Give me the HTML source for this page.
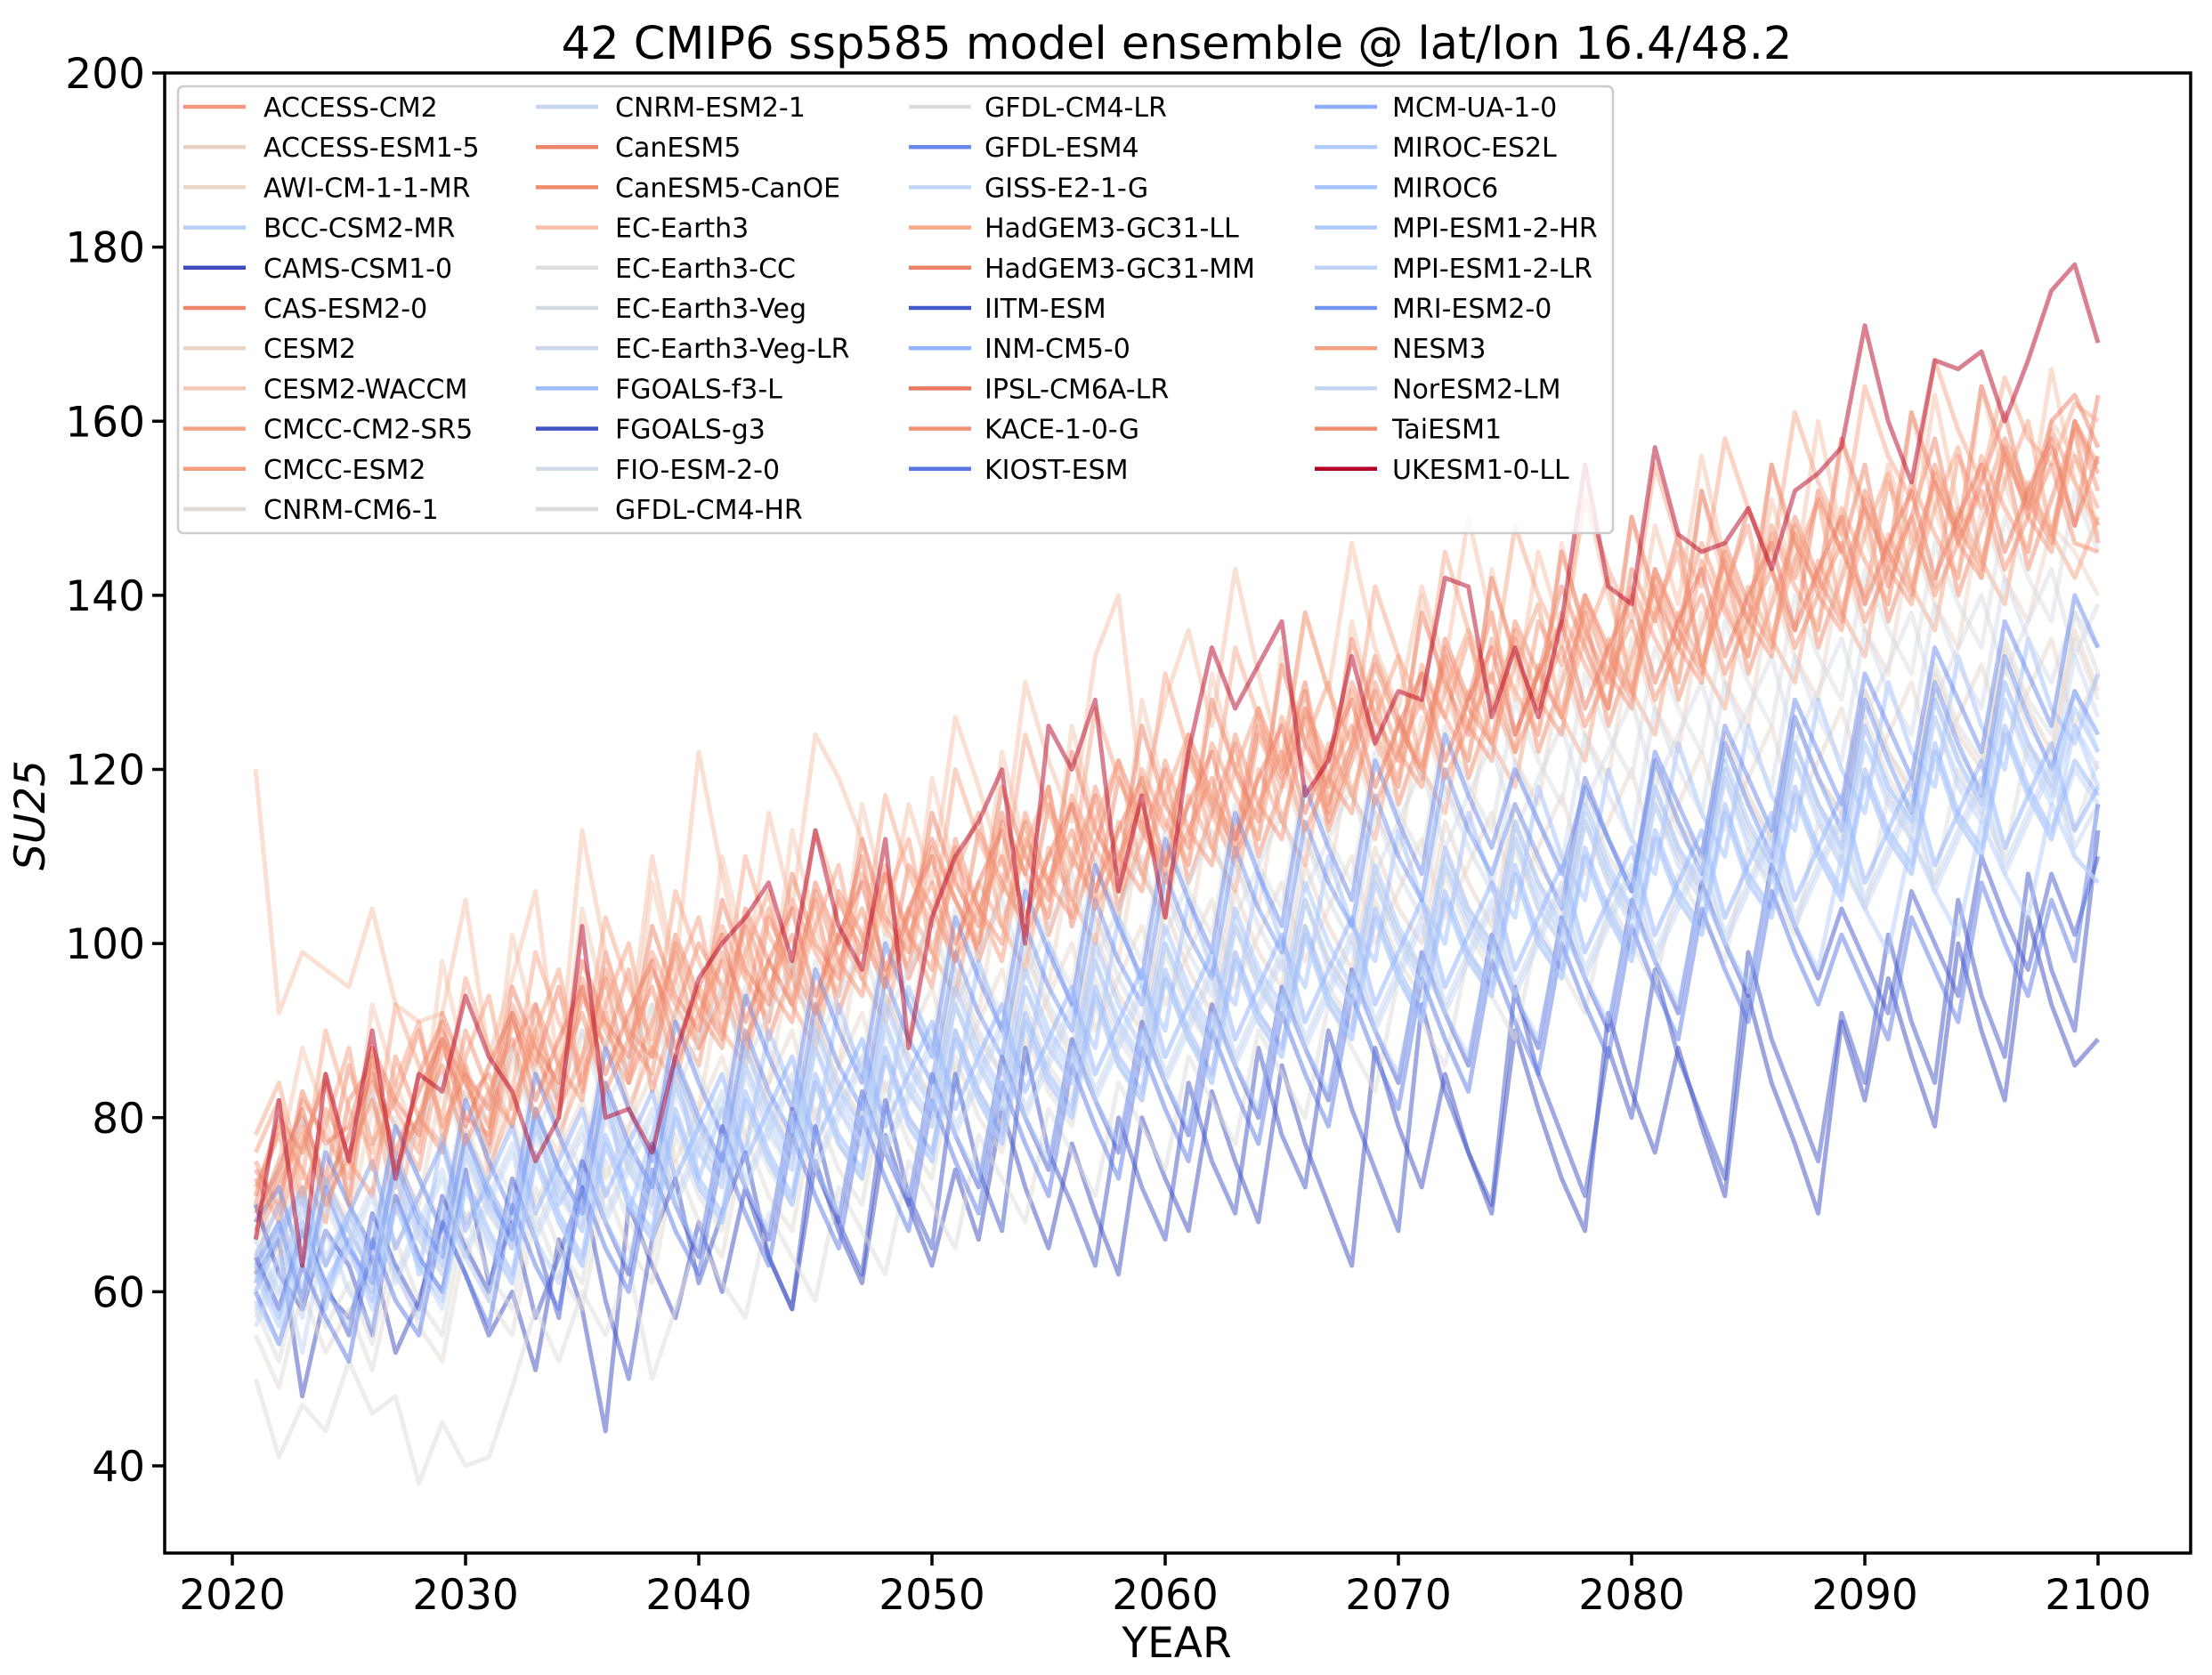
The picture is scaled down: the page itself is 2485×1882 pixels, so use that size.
<!DOCTYPE html>
<html><head><meta charset="utf-8">
<style>
html,body{margin:0;padding:0;background:#fff;}
svg{display:block;}
text{font-family:"DejaVu Sans","Liberation Sans",sans-serif;fill:#000;}
</style></head>
<body>
<svg id="chart" width="2485" height="1882" viewBox="0 0 2485 1882" xmlns="http://www.w3.org/2000/svg">
<rect x="0" y="0" width="2485" height="1882" fill="#fff"/>
<text x="1322" y="66" font-size="51" text-anchor="middle">42 CMIP6 ssp585 model ensemble @ lat/lon 16.4/48.2</text>
<g id="grid-lines"></g>
<g id="series-layer"></g>
<rect x="185" y="82" width="2276" height="1663" fill="none" stroke="#000" stroke-width="3.5"/>
<g id="y-axis"></g>
<g id="x-axis"></g>
<text x="0" y="0" font-size="47" font-style="italic" text-anchor="middle" transform="translate(50,916) rotate(-90)">SU25</text>
<text x="1322" y="1862" font-size="47" text-anchor="middle">YEAR</text>
<g id="legend"></g>
</svg>
<script>
const yTicks = [40, 60, 80, 100, 120, 140, 160, 180, 200];
const xTicks = [2020, 2030, 2040, 2050, 2060, 2070, 2080, 2090, 2100];
const startYear = 2021;
const modelNames = ["ACCESS-CM2","ACCESS-ESM1-5","AWI-CM-1-1-MR","BCC-CSM2-MR","CAMS-CSM1-0","CAS-ESM2-0","CESM2","CESM2-WACCM","CMCC-CM2-SR5","CMCC-ESM2","CNRM-CM6-1","CNRM-ESM2-1","CanESM5","CanESM5-CanOE","EC-Earth3","EC-Earth3-CC","EC-Earth3-Veg","EC-Earth3-Veg-LR","FGOALS-f3-L","FGOALS-g3","FIO-ESM-2-0","GFDL-CM4-HR","GFDL-CM4-LR","GFDL-ESM4","GISS-E2-1-G","HadGEM3-GC31-LL","HadGEM3-GC31-MM","IITM-ESM","INM-CM5-0","IPSL-CM6A-LR","KACE-1-0-G","KIOST-ESM","MCM-UA-1-0","MIROC-ES2L","MIROC6","MPI-ESM1-2-HR","MPI-ESM1-2-LR","MRI-ESM2-0","NESM3","NorESM2-LM","TaiESM1","UKESM1-0-LL"];
const modelColors = ["#f4987a","#e8d0c4","#ead5c9","#b9d0f9","#3b4cc0","#ef886b","#ecd3c5","#f3c7b1","#f4a384","#f59c7d","#e2dad5","#c5d6f2","#ee8468","#f08b6e","#f5c0a7","#dcdde1","#d5dbe5","#cad8ef","#9dbdff","#3f53c6","#d1dae9","#dddcdc","#dedcdb","#6788ee","#c0d4f5","#f6a889","#ec8165","#4358cb","#92b4fe","#e9785d","#f29274","#5977e3","#8caffe","#b2ccfb","#a5c3fe","#adc9fd","#bcd2f7","#7295f4","#f5a081","#c4d5f3","#f18f71","#b40426"];

const sACCESS_CM2 = [72,78,70,81,76,84,79,74,88,82,85,79,90,83,95,88,84,97,91,86,99,93,104,96,90,105,99,108,101,95,110,104,98,112,107,116,109,103,118,113,121,115,109,124,118,127,121,130,124,119,131,126,135,128,122,137,132,140,134,129,143,137,146,139,133,148,142,151,145,140,153,147,141,156,150,158,152,147,160,155];
const sACCESS_ESM = [64,70,59,73,67,62,76,69,65,79,72,67,81,74,70,84,77,72,86,79,75,89,82,77,91,84,80,94,87,82,96,89,85,99,92,87,101,94,90,104,97,92,106,99,95,109,102,97,111,104,100,114,107,102,116,109,105,119,112,107,121,114,110,124,117,112,126,119,115,129,122,117,131,124,120,134,127,122,136,129];
const sAWI = [60,66,72,63,69,75,65,71,77,68,74,80,70,76,82,73,79,85,75,81,87,78,84,90,80,86,92,83,89,95,85,91,97,88,94,100,90,96,102,93,99,105,95,101,107,98,104,110,100,106,112,103,109,115,105,111,117,108,114,120,110,116,122,113,119,125,115,121,127,118,124,130,120,126,132,123,129,135,125,131];
const sBCC = [62,68,57,71,65,60,74,67,63,77,70,66,79,73,68,81,75,71,84,77,73,86,80,75,88,82,78,91,84,80,93,87,82,95,89,85,98,91,87,100,94,89,102,96,92,105,98,94,107,101,96,109,103,99,112,105,101,114,108,103,116,110,106,119,112,108,121,115,110,123,117,113,126,119,115,128,122,117,125,120];
const sCAMS = [62,66,48,60,57,64,53,59,68,62,55,60,51,66,58,44,70,63,57,68,60,72,64,58,75,67,61,78,70,63,74,66,81,72,65,77,69,62,80,73,67,83,75,68,86,77,70,63,88,79,72,85,76,69,90,81,73,67,92,83,76,88,79,71,94,84,77,69,91,82,96,87,79,100,90,82,103,93,86,89];
const sCAS = [68,75,80,73,86,77,82,90,79,85,76,88,93,81,87,96,84,91,99,88,94,102,89,97,105,92,100,108,96,103,111,98,106,114,101,109,117,104,112,120,107,115,123,110,118,126,113,121,129,116,124,132,119,127,135,122,130,138,125,133,141,128,136,144,131,139,147,134,142,150,137,145,153,140,148,156,143,151,159,146];
const sCESM2 = [70,64,77,73,68,81,75,70,84,78,73,87,80,76,90,83,78,93,86,81,96,88,84,99,91,86,102,94,89,105,97,92,108,100,95,111,103,98,114,106,101,117,109,104,120,112,107,123,115,110,126,118,113,129,121,116,132,124,119,135,127,122,138,130,125,141,133,128,144,136,131,147,139,134,150,142,137,148,145,140];
const sWACCM = [62,75,88,80,71,93,84,77,98,86,79,101,90,82,104,93,85,107,96,88,110,99,91,113,102,94,116,105,97,119,108,100,122,111,103,125,114,106,128,117,109,131,120,112,134,123,115,137,126,118,140,129,121,143,132,124,146,135,127,149,138,130,152,141,133,155,144,136,158,147,139,161,150,142,164,153,145,160,156,148];
const sCMCC_SR5 = [66,72,78,71,75,83,69,80,77,86,74,82,89,78,85,92,81,88,84,95,90,86,98,93,88,101,96,91,104,99,94,107,102,97,111,105,100,114,108,103,117,111,106,120,114,109,123,117,112,126,120,115,129,123,118,132,126,121,135,129,124,138,132,127,141,135,130,144,138,133,147,141,136,150,144,139,153,147,142,149];
const sCMCC_ESM = [75,69,82,78,73,87,81,76,90,84,79,93,87,82,96,90,85,99,93,88,102,96,91,105,99,94,108,102,97,111,105,100,114,108,103,117,111,106,120,114,109,123,117,112,126,120,115,129,123,118,132,126,121,135,129,124,138,132,127,141,135,130,144,138,133,147,141,136,150,144,139,153,147,142,156,150,145,159,153,148];
const sCNRM_CM6 = [55,49,60,53,58,51,63,56,52,66,59,55,69,62,58,72,65,61,75,68,64,78,71,67,81,74,70,84,77,73,87,80,76,90,83,79,93,86,82,96,89,85,99,92,88,102,95,91,105,98,94,108,101,97,111,104,100,114,107,103,117,110,106,120,113,109,123,116,112,126,119,115,129,122,118,132,125,121,135,128];
const sCNRM_ESM = [57,63,69,60,66,72,62,68,74,65,71,77,67,73,79,69,75,81,71,77,83,73,79,85,75,81,87,77,83,89,79,85,91,81,87,93,83,89,95,85,91,97,87,93,99,89,95,101,91,97,103,93,99,105,95,101,107,97,103,109,99,105,111,101,107,113,103,109,115,105,111,117,107,113,119,109,115,121,111,116];
const sCanESM5 = [74,70,83,77,79,88,72,85,91,80,78,92,86,95,83,99,90,87,101,94,89,104,98,93,107,100,110,96,103,112,105,99,115,108,118,102,111,121,114,109,124,117,112,127,120,130,116,123,133,126,119,135,128,138,124,131,141,134,127,143,137,147,132,140,150,143,136,152,145,155,141,149,158,146,153,161,150,157,148,163];
const sCanOE = [70,79,74,68,82,86,75,80,89,84,77,91,85,80,94,88,97,83,92,100,95,87,103,97,92,106,101,95,109,104,98,113,107,102,116,110,105,119,113,108,122,116,111,125,119,129,114,122,132,125,120,134,127,123,137,131,126,140,133,128,143,136,131,146,139,134,149,142,137,152,145,140,155,148,143,157,151,146,160,154];
const sEC3 = [120,92,99,97,95,104,93,91,92,105,87,96,106,85,113,99,89,110,97,122,108,96,115,104,124,119,112,101,116,107,126,118,109,130,121,114,133,140,117,128,136,125,143,131,121,138,129,146,134,127,141,132,149,137,128,145,136,152,140,131,148,139,156,144,135,151,142,160,147,139,155,146,163,150,142,158,149,166,153,147];
const sEC3_CC = [66,72,63,77,70,65,80,73,68,83,76,71,86,79,74,89,82,77,92,85,80,95,88,83,98,91,86,101,94,89,104,97,92,107,100,95,110,103,98,113,106,101,116,109,104,119,112,107,122,115,110,125,118,113,128,121,116,131,124,119,134,127,122,137,130,125,140,133,128,143,136,131,146,139,134,149,142,137,152,145];
const sEC3_Veg = [68,74,80,71,77,83,73,79,85,76,82,88,78,84,90,81,87,93,83,89,95,86,92,98,88,94,100,91,97,103,93,99,105,96,102,108,98,104,110,101,107,113,103,109,115,106,112,118,108,114,120,111,117,123,113,119,125,116,122,128,118,124,130,121,127,133,123,129,135,126,132,138,128,134,140,131,137,143,133,139];
const sEC3_VegLR = [65,59,70,63,68,61,73,66,62,75,69,65,78,71,67,80,74,69,83,76,72,85,78,74,88,81,76,90,83,79,93,86,81,95,88,84,98,91,86,100,93,89,103,96,91,105,98,94,108,101,96,110,103,99,113,106,101,115,108,104,118,111,106,120,113,109,123,116,111,125,118,114,128,121,116,130,123,119,133,126];
const sFGOALS_f3 = [60,66,71,58,69,64,74,62,78,68,72,65,80,70,75,84,69,78,87,73,81,76,90,83,78,93,85,80,95,88,83,98,90,85,100,93,88,103,95,90,105,97,93,108,100,95,110,102,98,113,105,100,115,107,103,118,110,105,120,112,108,123,115,110,125,117,113,128,120,115,130,122,118,133,125,120,135,127,123,131];
const sFGOALS_g3 = [70,62,58,67,63,55,71,64,60,74,61,68,57,64,72,59,50,66,73,61,69,76,64,58,79,68,62,82,71,65,85,74,67,88,76,70,63,80,72,66,84,75,69,88,78,72,90,81,74,67,93,83,76,70,95,85,78,71,88,80,97,87,80,73,99,89,82,75,92,84,101,91,84,105,94,87,108,97,90,113];
const sFIO = [61,67,58,70,64,60,73,66,62,76,69,65,79,72,67,82,75,70,85,78,73,88,81,76,91,84,79,94,87,82,97,90,85,100,93,88,103,96,91,106,99,94,109,102,97,112,105,100,115,108,103,118,111,106,121,114,109,124,117,112,127,120,115,130,123,118,133,126,121,136,129,124,139,132,127,142,135,130,138,134];
const sGFDL_HR = [50,41,47,44,52,46,48,38,45,40,41,49,58,52,60,55,63,50,58,66,61,57,69,64,59,72,67,62,75,70,65,78,73,68,81,76,71,84,79,74,87,82,77,90,85,80,93,88,83,96,91,86,99,94,89,102,97,92,105,100,95,108,103,98,111,106,101,114,109,104,117,112,107,120,115,110,123,118,113,121];
const sGFDL_LR = [58,52,63,56,61,54,66,59,55,69,62,58,72,65,61,75,68,64,78,71,67,81,74,70,84,77,73,87,80,76,90,83,79,93,86,82,96,89,85,99,92,88,102,95,91,105,98,94,108,101,97,111,104,100,114,107,103,117,110,106,120,113,109,123,116,112,126,119,115,129,122,118,132,125,121,135,128,124,138,131];
const sGFDL_ESM4 = [68,72,63,76,70,65,79,73,67,82,75,69,85,78,72,88,81,75,91,84,78,94,87,81,97,90,84,100,93,87,103,96,90,106,99,93,109,102,96,112,105,99,115,108,102,118,111,105,121,114,108,124,117,111,120,114,108,118,112,106,122,116,110,125,119,113,128,122,116,131,125,119,134,128,122,137,131,125,140,134];
const sGISS = [58,64,53,67,60,56,70,63,58,72,65,61,75,68,63,77,70,66,80,72,68,82,75,70,84,77,73,87,79,75,89,82,77,91,84,80,94,86,82,96,89,84,98,91,87,101,93,89,103,96,91,105,98,94,108,100,96,110,103,98,112,105,101,115,107,103,117,110,105,119,112,108,122,114,110,124,117,112,120,116];
const sHad_LL = [78,84,73,90,81,76,93,86,80,96,88,83,99,91,86,103,95,89,106,98,92,110,101,96,113,105,99,117,108,102,120,112,106,124,115,109,127,119,113,131,122,116,134,126,120,138,129,123,141,133,127,145,136,130,148,140,134,151,143,137,155,146,141,158,150,144,161,153,147,164,156,151,167,159,153,165,158,155,162,160];
const sHad_MM = [71,80,76,85,70,88,82,78,92,85,81,95,88,84,98,91,87,102,94,90,105,97,93,108,100,96,112,103,99,115,107,102,118,110,105,122,113,108,125,116,111,128,120,114,132,123,118,135,126,121,138,130,124,142,133,127,145,136,130,149,140,134,152,143,137,155,146,141,158,150,144,161,153,147,164,156,150,160,163,157];
const sIITM = [64,58,67,61,55,69,63,58,71,65,60,73,66,57,75,68,62,77,70,64,79,72,66,81,74,68,83,76,70,85,78,72,87,80,74,89,82,76,91,84,78,93,86,80,95,88,82,97,90,84,99,92,86,101,94,88,103,96,90,105,98,92,107,100,94,109,102,96,104,98,92,106,100,94,110,103,97,108,101,110];
const sINM = [63,57,68,61,66,59,71,64,60,73,67,62,76,69,64,78,71,67,81,73,69,83,76,71,85,78,74,88,80,76,90,83,78,92,85,81,95,87,83,97,90,85,99,92,88,102,94,90,104,97,92,106,99,95,109,101,97,111,104,99,113,106,102,116,108,104,118,111,106,120,113,109,123,115,111,125,118,113,121,117];
const sIPSL = [69,74,81,72,78,85,76,83,89,79,86,92,82,89,95,85,92,98,88,95,101,91,98,104,94,101,107,97,104,110,100,107,113,103,110,116,106,113,119,109,116,122,112,119,125,115,122,128,118,125,131,121,128,134,124,131,137,127,134,140,130,137,143,133,140,146,136,143,149,139,146,152,142,149,155,145,152,158,148,156];
const sKACE = [73,68,77,84,75,71,87,80,76,90,83,79,93,86,82,97,89,85,100,92,88,103,95,91,106,98,94,109,101,97,112,104,100,115,107,103,118,110,106,121,113,109,124,116,112,127,119,115,130,122,118,133,125,121,136,128,124,139,131,127,142,134,130,145,137,133,148,140,136,151,143,139,154,146,142,157,149,145,160,152];
const sKIOST = [60,54,63,57,52,66,59,55,68,62,56,70,63,58,72,65,60,74,67,62,76,69,63,78,71,65,80,73,67,82,75,69,84,77,71,86,79,73,88,81,75,90,83,77,92,85,79,94,87,81,96,89,83,98,91,85,100,93,87,102,95,89,104,97,91,106,99,93,101,95,89,103,97,91,107,100,94,105,98,116];
const sMCM = [61,67,72,63,69,75,65,71,77,67,73,79,69,75,81,71,77,83,73,79,85,75,81,87,77,83,89,79,85,91,81,87,93,83,89,95,85,91,97,87,93,99,89,95,101,91,97,103,93,99,105,95,101,107,97,103,109,99,105,111,101,107,113,103,109,115,105,111,117,107,113,119,109,115,121,111,117,123,113,118];
const sMIROC_ES2L = [59,54,65,60,56,68,62,57,70,64,59,72,66,61,74,68,63,76,70,65,78,72,67,80,74,69,82,76,71,84,78,73,86,80,75,88,82,77,90,84,79,92,86,81,94,88,83,96,90,85,98,92,87,100,94,89,102,96,91,104,98,93,106,100,95,108,102,97,110,104,99,112,106,101,114,108,103,116,110,107];
const sMIROC6 = [64,70,60,73,67,62,76,69,65,78,72,67,81,74,69,83,76,72,86,79,74,88,81,76,90,83,79,93,86,81,95,88,83,97,90,86,100,93,88,102,95,90,104,97,93,107,100,95,109,102,97,111,104,100,114,107,102,116,109,104,118,111,107,121,114,109,123,116,111,125,118,114,128,121,116,130,123,118,127,122];
const sMPI_HR = [62,56,67,60,65,58,70,63,59,72,66,61,75,68,63,77,70,66,80,72,68,82,75,70,84,77,73,87,79,75,89,82,77,91,84,80,94,86,82,96,89,84,98,91,87,101,93,89,103,96,91,105,98,94,108,100,96,110,103,98,112,105,101,115,107,103,117,110,105,119,112,108,122,114,110,124,117,112,125,118];
const sMPI_LR = [66,60,71,64,69,62,74,67,63,76,70,65,79,72,67,81,74,70,84,76,72,86,79,74,88,81,77,91,83,79,93,86,81,95,88,84,98,90,86,100,93,88,102,95,91,105,97,93,107,100,95,109,102,98,112,104,100,114,107,102,116,109,105,119,111,107,121,114,109,123,116,112,126,118,114,128,121,116,129,122];
const sMRI = [63,68,59,72,65,61,75,68,64,78,71,66,81,74,69,84,77,72,87,80,75,90,83,78,93,86,81,96,89,84,99,92,87,102,95,90,105,98,93,108,101,96,111,104,99,114,107,102,117,110,105,120,113,108,116,110,104,119,112,106,121,114,108,123,116,110,126,119,113,128,121,115,130,123,117,133,126,120,129,124];
const sNESM3 = [76,82,71,79,88,74,84,91,78,87,94,81,90,97,84,93,100,87,96,103,90,99,106,93,102,109,96,105,112,99,108,115,102,111,118,105,114,121,108,117,124,111,120,127,114,123,130,117,126,133,120,129,136,123,132,139,126,135,142,129,138,145,132,141,148,135,144,151,138,147,154,141,150,157,144,153,160,147,156,150];
const sNorESM = [56,62,68,59,65,71,61,67,73,64,70,76,66,72,78,68,74,80,70,76,82,72,78,84,74,80,86,76,82,88,78,84,90,80,86,92,82,88,94,84,90,96,86,92,98,88,94,100,90,96,102,92,98,104,94,100,106,96,102,108,98,104,110,100,106,112,102,108,114,104,110,116,106,112,118,108,114,120,110,107];
const sTaiESM = [67,73,79,70,76,82,74,80,86,77,83,89,80,86,92,83,89,95,86,92,98,89,95,101,92,98,104,95,101,107,98,104,110,101,107,113,104,110,116,107,113,119,110,116,122,113,119,125,116,122,128,119,125,131,122,128,134,125,131,137,128,134,140,131,137,143,134,140,146,137,143,149,140,146,152,143,149,155,146,145];
const sUKESM = [66,82,63,85,75,90,73,85,83,94,87,83,75,80,102,80,81,76,87,96,100,103,107,98,113,102,97,112,88,103,110,114,120,100,125,120,128,106,117,103,122,134,127,132,137,117,121,133,123,129,128,142,141,126,134,126,137,155,141,139,157,147,145,146,150,143,152,154,157,171,160,153,167,166,168,160,167,175,178,169];

const allSeries = [sACCESS_CM2,sACCESS_ESM,sAWI,sBCC,sCAMS,sCAS,sCESM2,sWACCM,sCMCC_SR5,sCMCC_ESM,sCNRM_CM6,sCNRM_ESM,sCanESM5,sCanOE,sEC3,sEC3_CC,sEC3_Veg,sEC3_VegLR,sFGOALS_f3,sFGOALS_g3,sFIO,sGFDL_HR,sGFDL_LR,sGFDL_ESM4,sGISS,sHad_LL,sHad_MM,sIITM,sINM,sIPSL,sKACE,sKIOST,sMCM,sMIROC_ES2L,sMIROC6,sMPI_HR,sMPI_LR,sMRI,sNESM3,sNorESM,sTaiESM,sUKESM];

const NS = "http://www.w3.org/2000/svg";
const plot = {left:185, right:2461, top:82, bottom:1745};
function xScale(year){ return 261 + (year - 2020) * 26.2; }
function yScale(v){ return 1647 - (v - 40) * (1565 / 160); }

const seriesLayer = document.getElementById('series-layer');
allSeries.forEach(function(vals, i){
  const pts = vals.map(function(v, k){ return xScale(startYear + k).toFixed(1) + ',' + yScale(v).toFixed(1); }).join(' ');
  const pl = document.createElementNS(NS, 'polyline');
  pl.setAttribute('points', pts);
  pl.setAttribute('fill', 'none');
  pl.setAttribute('stroke', modelColors[i]);
  pl.setAttribute('stroke-width', '5');
  pl.setAttribute('stroke-opacity', '0.5');
  pl.setAttribute('stroke-linejoin', 'round');
  
  
  seriesLayer.appendChild(pl);
});

const yAxis = document.getElementById('y-axis');
yTicks.forEach(function(t){
  const y = yScale(t);
  const ln = document.createElementNS(NS, 'line');
  ln.setAttribute('x1', plot.left - 14); ln.setAttribute('x2', plot.left);
  ln.setAttribute('y1', y); ln.setAttribute('y2', y);
  ln.setAttribute('stroke', '#000'); ln.setAttribute('stroke-width', '3.5');
  
  
  yAxis.appendChild(ln);
  const tx = document.createElementNS(NS, 'text');
  tx.setAttribute('x', plot.left - 22); tx.setAttribute('y', y + 17);
  tx.setAttribute('font-size', '47'); tx.setAttribute('text-anchor', 'end');
  tx.textContent = t;
  
  
  yAxis.appendChild(tx);
});

const xAxis = document.getElementById('x-axis');
xTicks.forEach(function(t){
  const x = xScale(t);
  const ln = document.createElementNS(NS, 'line');
  ln.setAttribute('x1', x); ln.setAttribute('x2', x);
  ln.setAttribute('y1', plot.bottom); ln.setAttribute('y2', plot.bottom + 14);
  ln.setAttribute('stroke', '#000'); ln.setAttribute('stroke-width', '3.5');
  
  
  xAxis.appendChild(ln);
  const tx = document.createElementNS(NS, 'text');
  tx.setAttribute('x', x); tx.setAttribute('y', plot.bottom + 63);
  tx.setAttribute('font-size', '47'); tx.setAttribute('text-anchor', 'middle');
  tx.textContent = t;
  
  
  xAxis.appendChild(tx);
});

const legend = document.getElementById('legend');
const box = document.createElementNS(NS, 'rect');
box.setAttribute('x', 200); box.setAttribute('y', 97);
box.setAttribute('width', 1612); box.setAttribute('height', 502);
box.setAttribute('rx', 6);
box.setAttribute('fill', '#fff'); box.setAttribute('fill-opacity', '0.8');
box.setAttribute('stroke', '#cccccc'); box.setAttribute('stroke-width', '2.5');


legend.appendChild(box);
const colLine = [206, 602, 1021, 1477];
const colText = [296, 691, 1106, 1564];
const rowsPerCol = [11, 11, 10, 10];
let idx = 0;
for (let c = 0; c < 4; c++) {
  for (let r = 0; r < rowsPerCol[c]; r++) {
    const y = 120 + r * 45.2;
    const g = document.createElementNS(NS, 'g');
    
    
    const ln = document.createElementNS(NS, 'line');
    ln.setAttribute('x1', colLine[c]); ln.setAttribute('x2', colLine[c] + 70);
    ln.setAttribute('y1', y); ln.setAttribute('y2', y);
    ln.setAttribute('stroke', modelColors[idx]); ln.setAttribute('stroke-width', '4.5');
    
    
    g.appendChild(ln);
    const tx = document.createElementNS(NS, 'text');
    tx.setAttribute('x', colText[c]); tx.setAttribute('y', y + 11);
    tx.setAttribute('font-size', '30');
    tx.textContent = modelNames[idx];
    
    
    g.appendChild(tx);
    legend.appendChild(g);
    idx++;
  }
}
</script>
</body></html>
